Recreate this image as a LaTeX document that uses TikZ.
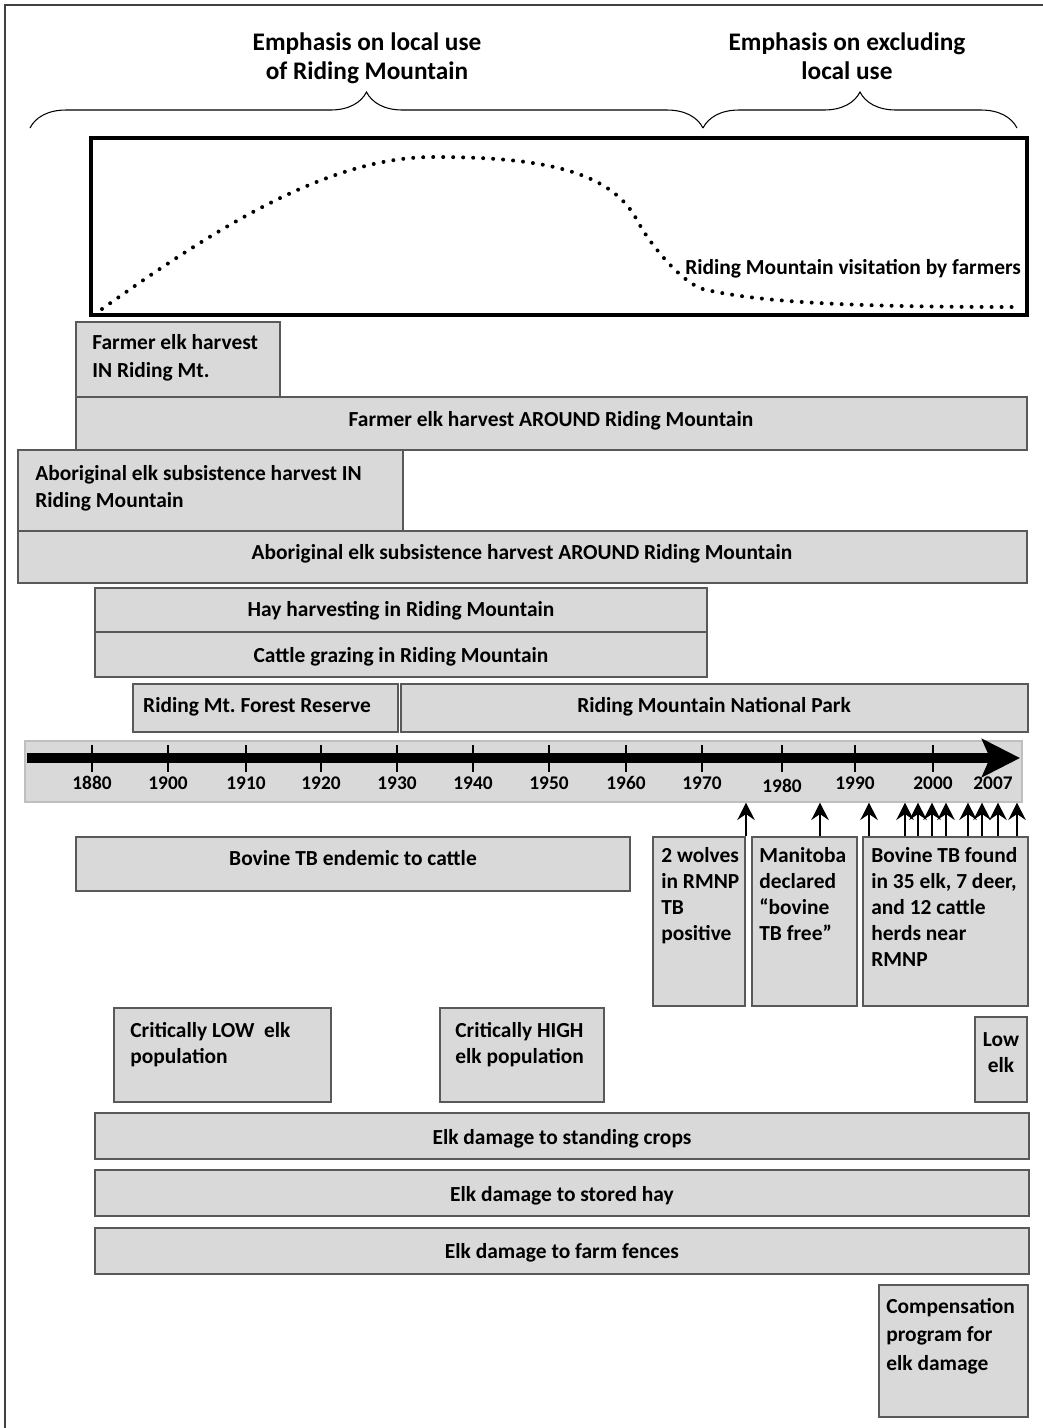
\documentclass[tikz,border=0pt]{standalone}
\usepackage{fontspec}
\setmainfont{Carlito}
\usetikzlibrary{arrows.meta,fit,decorations.pathreplacing}
\usepackage{xcolor}

\definecolor{boxfill}{HTML}{D9D9D9}
\definecolor{boxline}{HTML}{595959}
\definecolor{bandline}{HTML}{BFBFBF}

\newcommand\boxfont{\bfseries\fontsize{12.2}{14.8}\selectfont}
\newcommand\boxwide{\bfseries\fontsize{12.2}{16.4}\selectfont}
\newcommand\headfont{\bfseries\fontsize{14.4}{17}\selectfont}
\newcommand\yearfont{\bfseries\fontsize{11}{13}\selectfont}

\begin{document}
\begin{tikzpicture}[
    x=0.02cm, y=-0.02cm,
    box/.style={draw=boxline, fill=boxfill, line width=0.6pt, inner sep=0pt},
    band/.style={draw=bandline, fill=boxfill, line width=0.6pt, inner sep=0pt},
    txt/.style={font=\boxfont, align=flush left, text width=12cm, inner sep=0pt, anchor=base west},
    widetxt/.style={txt, font=\boxwide},
    bartxt/.style={font=\boxfont, inner sep=0pt, anchor=base},
    heading/.style={font=\headfont, align=flush center, text width=7cm, inner sep=0pt, anchor=base},
    yr/.style={font=\yearfont, inner sep=0pt, anchor=base},
    yrtick/.style={line width=0.6pt},
    uparrow/.style={-{Stealth[length=3.5mm,width=3.5mm,inset=1.2mm]}, line width=0.8pt},
    timeline/.style={-{Stealth[length=7.6mm,width=7.6mm,inset=1.6mm]}, line width=0.2cm},
    visitbox/.style={draw, line width=0.08cm, inner sep=0pt},
    visit/.style={line width=0.08cm, line cap=round, dash pattern=on 0pt off 0.2cm},
    bracket/.style={decorate, decoration={brace, amplitude=0.72cm}, line width=0.6pt}
]
\useasboundingbox (0,0) rectangle (1043,1428);

% ---------------------------------
% Frame and headings
% ---------------------------------
\draw[line width=0.03cm, black!75] (5,1428) -- (5,5) -- (1043,5);

\node[heading] (localuse) at (367,50) {Emphasis on local use\\of Riding Mountain};
\node[heading] (excluding) at (847,50) {Emphasis on excluding\\local use};

\draw[bracket] (30,128) -- (703,128);
\draw[bracket] (703,128) -- (1017,128);

% ---------------------------------
% Visitation curve
% ---------------------------------
\node[visitbox, fit={(91,138) (1027,315)}] (visitation) {};
\draw[visit] (102,309) .. controls (220,225) and (330,157) .. (433,157)
    .. controls (540,157) and (610,170) .. (637,220)
    .. controls (650,245) and (685,287) .. (707,290)
    .. controls (760,302) and (850,307) .. (1013,307);
\node[txt] (visitlabel) at (685,274) {Riding Mountain visitation by farmers};

% ---------------------------------
% Harvest and land use bars
% ---------------------------------
\node[box, fit={(76,322) (280,397)}] (farmin) {};
\node[widetxt] (farmintxt) at (92,349) {Farmer elk harvest\\IN Riding Mt.};

\node[box, fit={(76,397) (1027,450)}] (farmaround) {};
\node[bartxt] (farmaroundtxt) at (551,426) {Farmer elk harvest AROUND Riding Mountain};

\node[box, fit={(18,450) (403,531)}] (abin) {};
\node[widetxt, font=\bfseries\fontsize{12.2}{15.8}\selectfont] (abintxt) at (35,480)
    {Aboriginal elk subsistence harvest IN\\Riding Mountain};

\node[box, fit={(18,531) (1027,583)}] (abaround) {};
\node[bartxt] (abaroundtxt) at (522,559) {Aboriginal elk subsistence harvest AROUND Riding Mountain};

\node[box, fit={(95,588) (707,632)}] (hay) {};
\node[bartxt] (haytxt) at (401,616) {Hay harvesting in Riding Mountain};

\node[box, fit={(95,632) (707,677)}] (cattle) {};
\node[bartxt] (cattletxt) at (401,662) {Cattle grazing in Riding Mountain};

\node[box, fit={(133,684) (398,732)}] (reserve) {};
\node[bartxt] (reservetxt) at (257,712) {Riding Mt.\ Forest Reserve};

\node[box, fit={(401,684) (1028,732)}] (park) {};
\node[bartxt] (parktxt) at (714,712) {Riding Mountain National Park};

% ---------------------------------
% Timeline
% ---------------------------------
\node[band, fit={(25,741) (1022,802)}] (band) {};
\coordinate (tstart) at (27,758);
\coordinate (tend) at (1020,758);
\draw[timeline] (tstart) -- (tend);

\foreach \x/\yr in {92/1880, 168/1900, 246/1910, 321/1920, 397/1930, 473/1940,
                    549/1950, 626/1960, 702/1970, 855/1990, 933/2000} {
    \draw[yrtick] (\x,745) -- (\x,772);
    \node[yr] (y\yr) at (\x,789) {\yr};
}
\draw[yrtick] (782,745) -- (782,772);
\node[yr] (y1980) at (782,792) {1980};
\node[yr] (y2007) at (993,789) {2007};

% ---------------------------------
% Disease events
% ---------------------------------
\node[box, fit={(76,837) (630,891)}] (endemic) {};
\node[bartxt] (endemictxt) at (353,865) {Bovine TB endemic to cattle};

\node[box, fit={(653,837) (745,1006)}] (wolves) {};
\node[txt] (wolvestxt) at (661,862) {2 wolves\\in RMNP\\TB\\positive};

\node[box, fit={(752,837) (857,1006)}] (manitoba) {};
\node[txt] (manitobatxt) at (759,862) {Manitoba\\declared\\“bovine\\TB free”};

\node[box, fit={(863,837) (1028,1006)}] (tbfound) {};
\node[txt] (tbfoundtxt) at (871,862) {Bovine TB found\\in 35 elk, 7 deer,\\and 12 cattle\\herds near\\RMNP};

\draw[uparrow] (746,0 |- wolves.north) -- (746,0 |- band.south);
\draw[uparrow] (820,0 |- manitoba.north) -- (820,0 |- band.south);
\foreach \x in {869,905,918,932,946,968,982,998,1017}
    \draw[uparrow] (\x,0 |- tbfound.north) -- (\x,0 |- band.south);

% ---------------------------------
% Elk population and damage
% ---------------------------------
\node[box, fit={(114,1008) (331,1102)}] (lowpop) {};
\node[txt] (lowpoptxt) at (130,1037) {Critically LOW\ \ elk\\population};

\node[box, fit={(440,1008) (604,1102)}] (highpop) {};
\node[txt] (highpoptxt) at (455,1037) {Critically HIGH\\elk population};

\node[box, fit={(975,1017) (1027,1102)}] (lowelk) {};
\node[txt, align=flush center, text width=1.5cm, anchor=base] (lowelktxt) at (1001,1046) {Low\\elk};

\node[box, fit={(95,1113) (1029,1159)}] (crops) {};
\node[bartxt] (cropstxt) at (562,1144) {Elk damage to standing crops};

\node[box, fit={(95,1170) (1029,1216)}] (storedhay) {};
\node[bartxt] (storedhaytxt) at (562,1201) {Elk damage to stored hay};

\node[box, fit={(95,1228) (1029,1274)}] (fences) {};
\node[bartxt] (fencestxt) at (562,1258) {Elk damage to farm fences};

\node[box, fit={(879,1285) (1028,1417)}] (compensation) {};
\node[widetxt] (compensationtxt) at (886,1313) {Compensation\\program for\\elk damage};

\end{tikzpicture}
\end{document}
